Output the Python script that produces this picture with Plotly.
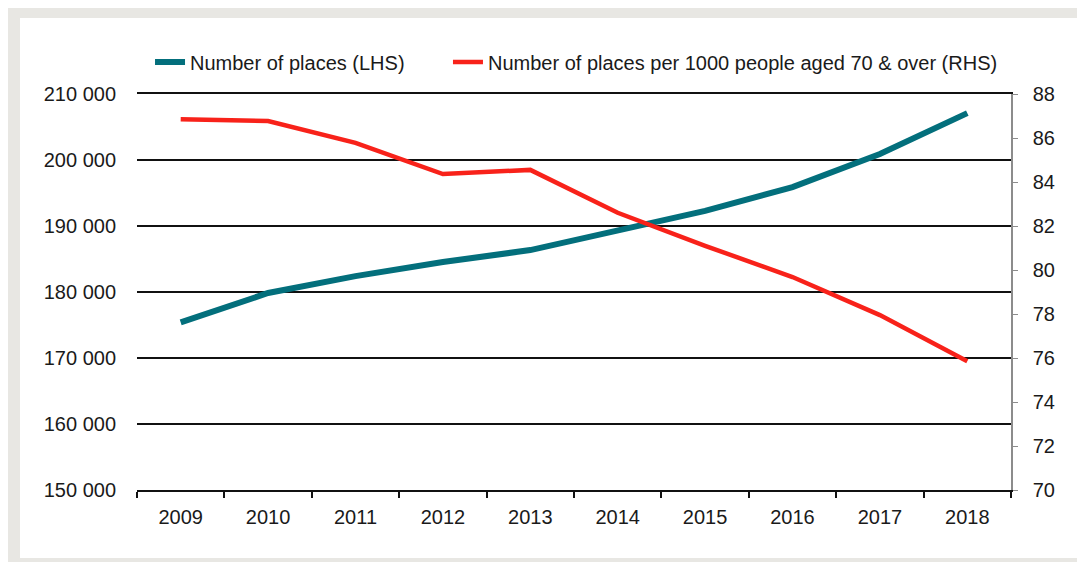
import plotly.graph_objects as go

years = ["2009", "2010", "2011", "2012", "2013", "2014", "2015", "2016", "2017", "2018"]
places = [175400, 179850, 182400, 184550, 186350, 189250, 192300, 195900, 200900, 207100]
places_per_1000 = [86.85, 86.77, 85.78, 84.36, 84.55, 82.6, 81.1, 79.68, 77.95, 75.85]

name_lhs = "Number of places (LHS)"
name_rhs = "Number of places per 1000 people aged 70 & over (RHS)"

FONT = "Liberation Sans, Arial, sans-serif"
TXT = "#1a1a1a"

fig = go.Figure()
fig.add_trace(go.Scatter(x=years, y=places, name=name_lhs, mode="lines",
                         line=dict(color="#036f7c", width=6), yaxis="y", legend="legend"))
fig.add_trace(go.Scatter(x=years, y=places_per_1000, name=name_rhs, mode="lines",
                         line=dict(color="#f8221a", width=4.5), yaxis="y2", legend="legend2"))

# frame (decorative border)
fig.add_shape(type="rect", xref="paper", yref="paper", x0=-0.2, x1=1.2, y0=-0.3, y1=1.3,
              fillcolor="#e8e7e3", line=dict(width=0), layer="below")
fig.add_shape(type="rect", xref="paper", yref="paper", x0=-0.1339, x1=1.0767, y0=-0.1717, y1=1.1919,
              fillcolor="white", line=dict(width=0), layer="below")

legend_common = dict(orientation="h", y=1.081, yanchor="middle", xanchor="left",
                     font=dict(size=20, color=TXT), bgcolor="rgba(0,0,0,0)", itemwidth=30)

fig.update_layout(
    width=1077, height=554,
    margin=dict(l=129, r=74, t=86, b=72, autoexpand=False),
    paper_bgcolor="white", plot_bgcolor="rgba(0,0,0,0)",
    separators=". ",
    font=dict(family=FONT, size=20, color=TXT),
    showlegend=True,
    legend=dict(x=0.0149, **legend_common),
    legend2=dict(x=0.3558, **legend_common),
    xaxis=dict(type="category", range=[-0.5, 9.5], showgrid=False, showline=True, mirror=True,
               linecolor="#111", linewidth=1.5,
               ticks="outside", ticklen=6, tickcolor="#111", tickwidth=1.5, tickson="boundaries",
               tickfont=dict(size=20, color=TXT), ticklabelstandoff=8, zeroline=False),
    yaxis=dict(range=[150000, 210000], dtick=10000, tickformat=",", showgrid=True,
               gridcolor="#111", gridwidth=1.5, showline=False, ticks="", zeroline=False,
               tickfont=dict(size=20, color=TXT), ticklabelstandoff=20),
    yaxis2=dict(range=[70, 88], dtick=2, overlaying="y", side="right", showgrid=False,
                showline=True, linecolor="#8c8c8c", linewidth=1.5, ticks="outside", ticklen=5,
                tickcolor="#8c8c8c", tickfont=dict(size=20, color=TXT), ticklabelstandoff=11,
                zeroline=False),
)

fig.write_html("out.html")
